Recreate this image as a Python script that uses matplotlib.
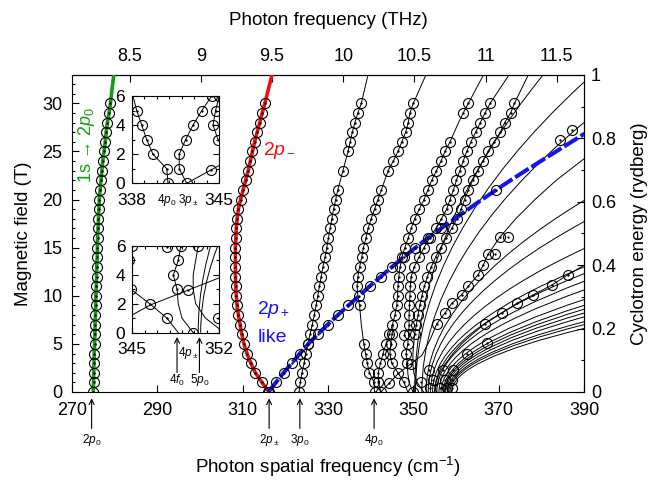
import matplotlib
matplotlib.use("Agg")
import matplotlib.pyplot as plt
from matplotlib.path import Path
from matplotlib.patches import PathPatch
from matplotlib.ticker import MultipleLocator

plt.rcParams["font.family"] = ["Liberation Sans", "DejaVu Sans"]
plt.rcParams["mathtext.fontset"] = "custom"
plt.rcParams["mathtext.rm"] = "Liberation Sans"
plt.rcParams["mathtext.it"] = "Liberation Sans:italic"
plt.rcParams["axes.linewidth"] = 0.8

GREEN = "#169b16"
RED = "#f01010"
BLUE = "#1414f0"

FIELDS = list(range(31))          # measured fields, tesla
B_TOP = 33.0
CM_PER_THZ = 33.356
TESLA_PER_RYD = 32.94

# 1s -> 2p0 (green), 2p- (red), 2p+ like (blue): wavenumber at each field
GREEN_X = [275.0, 275.05, 275.1, 275.15, 275.2, 275.3, 275.35, 275.4, 275.5, 275.55, 275.6,
           275.7, 275.75, 275.8, 275.9, 275.95, 276.0, 276.1, 276.2, 276.3, 276.4,
           276.6, 276.8, 277.0, 277.2, 277.5, 277.8, 278.0, 278.3, 278.7, 279.0]
GREEN_TOP = 279.8
RED_X = [316.2, 314.5, 313.0, 311.9, 311.0, 310.3, 309.8, 309.4, 309.0, 308.7, 308.5,
         308.4, 308.3, 308.3, 308.3, 308.3, 308.4, 308.5, 308.7, 309.0, 309.5,
         310.1, 310.7, 311.3, 311.8, 312.3, 312.8, 313.4, 314.0, 314.6, 315.2]
RED_TOP = 316.9
BLUE_B = list(range(28))
BLUE_X = [316.0, 317.8, 319.6, 321.5, 323.4, 325.4, 327.6, 329.9, 332.3, 334.8, 337.3,
          339.8, 342.4, 345.0, 347.7, 350.5, 353.4, 356.5, 359.7, 362.9, 366.1,
          369.4, 372.8, 376.3, 379.9, 383.5, 387.1, 390.7]
BLUE_RINGS = [0, 1, 2, 3, 4, 5, 6, 7, 8, 9, 10, 11, 12, 13, 14, 15, 16, 17, 21]

# black branches measured at FIELDS
P3_0_X = [323.2, 323.5, 323.9, 324.4, 324.8, 325.3, 325.8, 326.3, 326.8, 327.2, 327.6,
          328.0, 328.4, 328.8, 329.3, 329.7, 330.1, 330.5, 330.9, 331.3, 331.8,
          332.3, 332.9, 333.5, 334.1, 334.7, 335.2, 335.7, 336.3, 337.0, 337.8]
P3_0_TOP = 339.4
P4_0_X = [340.9, 340.8, 339.7, 339.2, 338.8, 338.4, 338.1, 337.8, 337.6, 337.4, 337.0,
          336.8, 337.0, 337.4, 337.9, 338.3, 338.9, 339.4, 340.1, 340.9, 341.7,
          342.5, 343.3, 344.1, 345.3, 346.4, 347.3, 348.2, 348.8, 349.2, 350.0]
P4_0_TOP = 353.0
P3_M_X = [342.4, 341.8, 341.8, 342.3, 342.9, 343.6, 344.4, 345.1, 345.7, 346.1, 346.3,
          346.4, 346.6, 346.9, 347.3, 348.0, 348.8, 349.5, 350.3, 351.4, 352.5,
          353.4, 354.3, 355.4, 356.5, 357.4, 358.6, 359.6, 360.6, 361.7, 362.9]
P3_M_TOP = 366.5
COL4_X = [349.9, 349.0, 348.7, 348.6, 348.3, 348.7, 348.9, 349.0, 349.0, 349.1, 349.2,
          349.3, 349.5, 350.2, 351.3, 352.5, 353.8, 355.3, 356.6, 357.8, 358.6,
          359.4, 360.1, 360.9, 361.7, 362.5, 363.5, 364.6, 365.7, 366.8, 368.0]
COL4_TOP = 372.5
COL5_X = [352.4, 350.9, 350.1, 349.9, 349.9, 350.1, 350.3, 350.7, 351.1, 351.5, 352.0,
          352.6, 353.3, 354.2, 355.2, 356.4, 357.7, 359.0, 360.2, 361.2, 362.0,
          362.9, 363.9, 365.1, 366.3, 367.5, 368.9, 370.4, 371.4, 372.8, 373.7]
COL5_TOP = 377.0

# branches with their own field points
P4_M_B = [0, 1, 2, 3, 4, 5, 6, 7]
P4_M_X = [348.7, 347.8, 346.4, 344.9, 344.5, 344.7, 345.0, 345.3]
P4_M_RINGS = [1, 2, 3, 4, 5, 6]
P3_P_B = [0, 0.9, 1.9, 2.95, 3.8, 5.5, 7.1, 8.2, 9.2, 10.1, 11.0, 12.2, 13.2, 14.3,
          16.1, 18.0, 20.0, 22.0, 24.4]
P3_P_X = [342.4, 344.3, 346.4, 349.5, 352.0, 354.0, 355.5, 357.4, 359.0, 361.3, 362.9,
          365.2, 366.4, 367.5, 370.3, 374.0, 378.5, 383.5, 390.5]
P3_P_RINGS = [0.9, 2.95, 7.1, 8.2, 9.2, 10.1, 11.0, 12.2, 13.2, 14.3, 16.1]
COLI_B = [0, 1, 2, 3, 4, 5, 6, 7.1, 8.2, 9.2, 10.1, 11.1, 12.2, 13.3]
COLI_X = [355.0, 355.3, 356.2, 357.6, 359.3, 361.3, 363.8, 366.8, 370.7, 374.2, 378.1,
          382.4, 386.3, 390.5]
COLI_RINGS = [7.1, 8.2, 9.2, 10.1, 11.1, 12.2]

# calculated fan of higher levels: start at zero field, end on the frame
FAN_X0 = [350.3, 350.5, 352.0, 353.0, 353.5, 354.0, 354.5, 355.0, 355.5, 356.0, 356.5,
          357.0, 357.3, 357.6, 358.0, 358.3, 358.6, 359.0]
FAN_END_X = [380.5, 390, 390, 390, 390, 390, 390, 390, 390, 390, 390,
             390, 390, 390, 390, 390, 390, 390]
FAN_END_B = [33.0, 32.2, 28.0, 19.9, 17.7, 14.9, 13.0, 12.3, 11.5, 10.6, 9.6,
             9.0, 8.6, 8.2, 7.8, 7.3, 7.0, 6.6]

MISC_X = [353.9, 356.2, 357.8, 359.0, 354.7, 357.4, 359.0, 353.7, 356.9, 359.2,
          347.8, 351.9, 372.3, 369.1, 384.4, 387.1, 362.5, 367.2]
MISC_B = [0.4, 0.4, 0.4, 0.4, 1.25, 1.25, 1.25, 2.3, 2.3, 2.3,
          5.95, 1.0, 16.1, 14.3, 26.2, 27.2, 4.0, 5.1]

THZ_TICKS = [8.5, 9, 9.5, 10, 10.5, 11, 11.5]
THZ_LABELS = ["8.5", "9", "9.5", "10", "10.5", "11", "11.5"]
RYD_TICKS = [0, 0.2, 0.4, 0.6, 0.8, 1.0]
RYD_LABELS = ["0", "0.2", "0.4", "0.6", "0.8", "1"]
ARROW_X = [274.6, 316.2, 323.4, 340.8]
ARROW_LABELS = ["$2p_0$", "$2p_\\pm$", "$3p_0$", "$4p_0$"]


def rings(ax, xs, bs):
    ax.plot(xs, bs, ls="none", marker="o", ms=7.2, mfc="none", mec="k", mew=0.8, zorder=5)
    ax.plot(xs, bs, ls="none", marker="o", ms=1.7, mfc="k", mec="none", zorder=6)


def column(ax, xs, top, skip=(), color="k", lw=0.7):
    ax.plot(list(xs) + [top], FIELDS + [B_TOP], color=color, lw=lw, zorder=3)
    keep = [i for i in FIELDS if i not in skip]
    rings(ax, [xs[i] for i in keep], keep)


def branch(ax, xs, bs, ring_b):
    ax.plot(xs, bs, color="k", lw=0.7, zorder=3)
    rings(ax, [x for x, b in zip(xs, bs) if b in ring_b], [b for b in bs if b in ring_b])


def draw_data(ax):
    for x0, xe, be in zip(FAN_X0, FAN_END_X, FAN_END_B):
        path = Path([(x0, 0.0), (x0, be / 2), (xe, be)], [Path.MOVETO, Path.CURVE3, Path.CURVE3])
        ax.add_patch(PathPatch(path, fill=False, ec="k", lw=0.7, zorder=3))
    column(ax, GREEN_X, GREEN_TOP, color=GREEN, lw=2.6)
    column(ax, RED_X, RED_TOP, color=RED, lw=2.6)
    ax.plot(BLUE_X, BLUE_B, color=BLUE, lw=2.9, ls=(0, (4, 0.8)), zorder=4)
    rings(ax, [BLUE_X[b] for b in BLUE_RINGS], BLUE_RINGS)
    column(ax, P3_0_X, P3_0_TOP, skip=(22, 24))
    column(ax, P4_0_X, P4_0_TOP, skip=(6, 7, 8, 10, 22))
    column(ax, P3_M_X, P3_M_TOP, skip=(27, 28))
    column(ax, COL4_X, COL4_TOP, skip=(1, 2))
    column(ax, COL5_X, COL5_TOP, skip=(0, 1, 2, 3, 4, 5))
    branch(ax, P4_M_X, P4_M_B, P4_M_RINGS)
    branch(ax, P3_P_X, P3_P_B, P3_P_RINGS)
    branch(ax, COLI_X, COLI_B, COLI_RINGS)
    rings(ax, MISC_X, MISC_B)


fig = plt.figure(figsize=(6.5, 4.87), dpi=100)
ax = fig.add_axes([72 / 650, 95 / 487, 512 / 650, 317 / 487])
draw_data(ax)
ax.set_xlim(270, 390)
ax.set_ylim(0, TESLA_PER_RYD)
ax.set_xticks([270, 290, 310, 330, 350, 370, 390])
ax.set_yticks([0, 5, 10, 15, 20, 25, 30])
ax.yaxis.set_minor_locator(MultipleLocator(1))
ax.tick_params(which="both", direction="in", top=False, right=False, width=0.8, labelsize=13, pad=7)
ax.tick_params(which="major", length=5)
ax.tick_params(which="minor", length=2.5)

ax.set_xlabel("Photon spatial frequency (cm$^{-1}$)", fontsize=13.5)
ax.xaxis.set_label_coords(0.5, -0.237)
ax.xaxis.label.set_va("center")
ax.set_ylabel("Magnetic field (T)", fontsize=13.5)
ax.yaxis.set_label_coords(-0.095, 0.5)
ax.yaxis.label.set_va("center")

top = ax.secondary_xaxis("top", functions=(lambda c: c / CM_PER_THZ, lambda f: f * CM_PER_THZ))
top.set_xticks(THZ_TICKS, labels=THZ_LABELS)
top.tick_params(direction="in", length=5, width=0.8, labelsize=13, pad=7)
top.set_xlabel("Photon frequency (THz)", fontsize=13.5)
top.xaxis.set_label_coords(0.5, 1.173, transform=ax.transAxes)
top.xaxis.label.set_va("center")

right = ax.secondary_yaxis("right", functions=(lambda b: b / TESLA_PER_RYD, lambda r: r * TESLA_PER_RYD))
right.set_yticks(RYD_TICKS, labels=RYD_LABELS)
right.yaxis.set_minor_locator(MultipleLocator(0.1))
right.tick_params(which="both", direction="in", width=0.8, labelsize=13, pad=5)
right.tick_params(which="major", length=5)
right.tick_params(which="minor", length=2.5)
right.set_ylabel("Cyclotron energy (rydberg)", fontsize=13.5)
right.yaxis.set_label_coords(1.109, 0.5, transform=ax.transAxes)
right.yaxis.label.set_va("center")

for x, lab in zip(ARROW_X, ARROW_LABELS):
    ax.annotate("", xy=(x, -0.02), xytext=(x, -0.115), xycoords=("data", "axes fraction"),
                arrowprops=dict(arrowstyle="->", lw=0.8, color="k", shrinkA=0, shrinkB=0, mutation_scale=9),
                annotation_clip=False)
    ax.text(x, -0.152, lab, transform=ax.get_xaxis_transform(), ha="center", va="center", fontsize=8.5)

ax.text(273.4, 25.6, "1s → 2$p_0$", rotation=90, color=GREEN, ha="center", va="center", fontsize=13)
ax.text(318.7, 25.1, "$2p_-$", color=RED, ha="center", va="center", fontsize=14)
ax.text(317.3, 8.6, "$2p_+$", color=BLUE, ha="center", va="center", fontsize=14)
ax.text(316.9, 5.7, "like", color=BLUE, ha="center", va="center", fontsize=14)

# insets: same data, zoomed near zero field
in1 = fig.add_axes([131.7 / 650, (487 - 183.3) / 487, 87.6 / 650, 87.3 / 487])
in2 = fig.add_axes([132.3 / 650, (487 - 332.7) / 487, 87.0 / 650, 86.7 / 487])
for iax, lo, hi in ((in1, 338, 345), (in2, 345, 352)):
    draw_data(iax)
    iax.set_xlim(lo, hi)
    iax.set_ylim(0, 6)
    iax.set_xticks([lo, hi])
    iax.set_yticks([0, 2, 4, 6])
    iax.xaxis.set_minor_locator(MultipleLocator(1))
    iax.yaxis.set_minor_locator(MultipleLocator(1))
    iax.tick_params(which="both", direction="in", top=True, right=True, width=0.8, labelsize=12.5)
    iax.tick_params(which="major", length=4)
    iax.tick_params(which="minor", length=2)
    iax.tick_params(axis="x", pad=7)
    iax.tick_params(axis="y", pad=5)

in1.text(340.8, -0.19, "$4p_0$", transform=in1.get_xaxis_transform(), ha="center", va="center", fontsize=8.5)
in1.text(342.5, -0.19, "$3p_\\pm$", transform=in1.get_xaxis_transform(), ha="center", va="center", fontsize=8.5)
for x, lab in ((348.6, "$4f_0$"), (350.4, "$5p_0$")):
    in2.annotate("", xy=(x, -0.05), xytext=(x, -0.46), xycoords=("data", "axes fraction"),
                 arrowprops=dict(arrowstyle="->", lw=0.8, color="k", shrinkA=0, shrinkB=0, mutation_scale=9),
                 annotation_clip=False)
    in2.text(x, -0.55, lab, transform=in2.get_xaxis_transform(), ha="center", va="center", fontsize=8.5)
in2.text(349.5, -0.235, "$4p_\\pm$", transform=in2.get_xaxis_transform(), ha="center", va="center", fontsize=8.5)

fig.savefig("out.png", dpi=100)
